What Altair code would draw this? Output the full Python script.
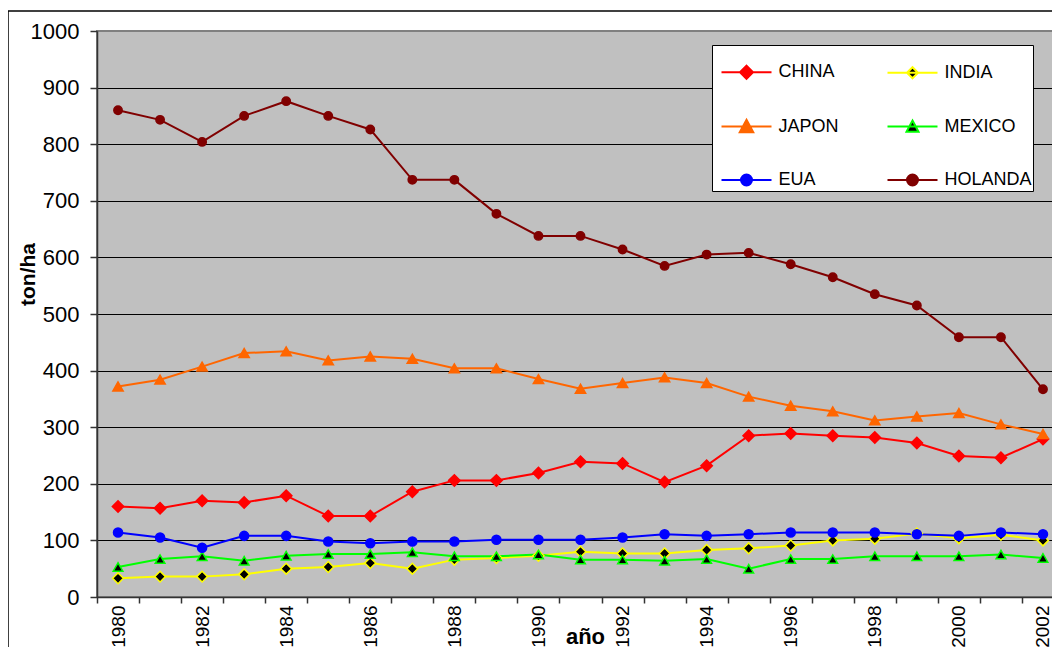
import altair as alt
import pandas as pd

years = list(range(1980, 2003))
countries = ["CHINA", "INDIA", "JAPON", "MEXICO", "EUA", "HOLANDA"]

china = [160, 157, 170, 167, 179, 143, 143, 186, 206, 206, 219, 239,
         236, 203, 232, 285, 289, 285, 282, 272, 249, 246, 279]
india = [33, 36, 36, 40, 50, 53, 60, 50, 66, 69, 73, 80,
         77, 77, 83, 86, 91, 100, 103, 112, 104, 110, 100]
japon = [372, 384, 407, 431, 434, 418, 425, 421, 404, 404, 385, 368,
         378, 388, 378, 354, 338, 328, 312, 319, 325, 305, 288]
mexico = [53, 67, 72, 64, 73, 76, 76, 79, 72, 72, 75, 66,
          66, 64, 67, 50, 67, 67, 72, 72, 72, 75, 69]
eua = [114, 105, 87, 108, 108, 98, 95, 98, 98, 101, 101, 101,
       105, 111, 108, 111, 114, 114, 114, 111, 108, 114, 111]
holanda = [860, 843, 804, 850, 876, 850, 826, 737, 737, 677, 638, 638,
           614, 585, 605, 608, 588, 565, 535, 515, 459, 459, 367]

series = {"CHINA": china, "INDIA": india, "JAPON": japon,
          "MEXICO": mexico, "EUA": eua, "HOLANDA": holanda}

line_colors = ["#FF0000", "#FFFF00", "#FF6600", "#00FF00", "#0000FF", "#800000"]
fill_colors = ["#FF0000", "#000000", "#FF6600", "#000000", "#0000FF", "#800000"]
point_shapes = ["diamond", "diamond", "triangle-up", "triangle-up", "circle", "circle"]
point_sizes = [130, 70, 150, 110, 120, 120]
legend_paths = [
    "M-1,0H1M-0.26,0L0,-0.26L0.26,0L0,0.26Z",
    "M-1,0H1M-0.22,0L0,-0.22L0.22,0L0,0.22Z",
    "M-1,0H1M0,-0.27L0.27,0.23L-0.27,0.23Z",
    "M-1,0H1M0,-0.24L0.24,0.21L-0.24,0.21Z",
    "M-1,0H1M-0.22,0A0.22,0.22,0,1,1,0.22,0A0.22,0.22,0,1,1,-0.22,0Z",
    "M-1,0H1M-0.22,0A0.22,0.22,0,1,1,0.22,0A0.22,0.22,0,1,1,-0.22,0Z",
]
# legend fills column by column: first column CHINA, JAPON, EUA
legend_order = ["CHINA", "JAPON", "EUA", "INDIA", "MEXICO", "HOLANDA"]
idx = [countries.index(c) for c in legend_order]

rows = []
for c in countries:
    for yr, v in zip(years, series[c]):
        rows.append({"anio": yr, "valor": v, "pais": c, "leyenda": c})
df = pd.DataFrame(rows)

FONT = "Liberation Sans"

x_axis = alt.Axis(
    values=[y - 0.5 for y in range(1980, 2004)],
    labelExpr="(datum.value + 0.5) % 2 == 0 ? format(datum.value + 0.5, 'd') : ''",
    labelOffset=21.0, labelAngle=270, labelAlign="right", labelBaseline="middle",
    labelOverlap=False, labelFlush=False, labelFontSize=19, labelPadding=2,
    labelColor="black", tickSize=6, tickColor="#333333", tickWidth=1.5,
    domainColor="#333333", domainWidth=1.5, grid=False,
    title="año", titleFontSize=22, titleFontWeight="bold", titleX=488, titleY=39,
    titleAlign="center", titleBaseline="middle", titleColor="black",
)
y_axis = alt.Axis(
    values=list(range(0, 1001, 100)), format="d", tickSize=7, tickColor="#333333", tickWidth=1.5,
    labelPadding=11, labelFontSize=22, labelColor="black",
    domainColor="#333333", domainWidth=1.5,
    grid=True, gridWidth=1,
    gridColor=alt.condition("datum.value == 1000", alt.value("#808080"), alt.value("#000000")),
    title="ton/ha", titleFontSize=21, titleFontWeight="bold", titleAngle=270,
    titleX=-69, titleY=243, titleAlign="center", titleBaseline="middle", titleColor="black",
)

x_enc = alt.X("anio:Q", scale=alt.Scale(domain=[1979.5, 2002.5], nice=False, zero=False), axis=x_axis)
y_enc = alt.Y("valor:Q", scale=alt.Scale(domain=[0, 1000], nice=False), axis=y_axis)

base = alt.Chart(df)

lines = base.mark_line(strokeWidth=2).encode(
    x=x_enc, y=y_enc,
    stroke=alt.Stroke("pais:N", scale=alt.Scale(domain=countries, range=line_colors), legend=None),
    detail="pais:N",
)

points = base.mark_point(filled=True, strokeWidth=1.5, opacity=1).encode(
    x=x_enc, y=y_enc,
    shape=alt.Shape("pais:N", scale=alt.Scale(domain=countries, range=point_shapes), legend=None),
    fill=alt.Fill("pais:N", scale=alt.Scale(domain=countries, range=fill_colors), legend=None),
    stroke=alt.Stroke("pais:N", scale=alt.Scale(domain=countries, range=line_colors), legend=None),
    size=alt.Size("pais:N", scale=alt.Scale(domain=countries, range=point_sizes), legend=None),
)

leg = alt.Legend(
    orient="none", legendX=615, legendY=14, columns=2, title=None,
    symbolSize=2500, symbolStrokeWidth=2, symbolOffset=7.5, symbolOpacity=1,
    labelOffset=6, labelFontSize=18, labelFont=FONT, labelColor="black",
    rowPadding=17.5, columnPadding=40, padding=1,
    fillColor="white", strokeColor="black",
)

legend_layer = base.mark_point(filled=True, opacity=0, strokeWidth=2).encode(
    x=x_enc, y=y_enc,
    shape=alt.Shape("leyenda:N", scale=alt.Scale(domain=legend_order, range=[legend_paths[i] for i in idx]), legend=leg),
    fill=alt.Fill("leyenda:N", scale=alt.Scale(domain=legend_order, range=[fill_colors[i] for i in idx]), legend=leg),
    stroke=alt.Stroke("leyenda:N", scale=alt.Scale(domain=legend_order, range=[line_colors[i] for i in idx]), legend=leg),
)

frame_df = pd.DataFrame({"k": [0]})
frame_left = alt.Chart(frame_df).mark_rule(color="black", strokeWidth=1.5).encode(
    x=alt.value(-89), y=alt.value(-20), y2=alt.value(640))
frame_top = alt.Chart(frame_df).mark_rule(color="black", strokeWidth=1.5).encode(
    x=alt.value(-89), x2=alt.value(990), y=alt.value(-20))

chart = alt.layer(frame_left, frame_top, lines, points, legend_layer).resolve_scale(
    shape="independent", fill="independent", stroke="independent"
).properties(
    width=967, height=566,
    autosize=alt.AutoSizeParams(type="none"),
    padding={"left": 89, "top": 23, "right": -12, "bottom": 50},
).configure(font=FONT).configure_view(
    fill="#C0C0C0", stroke="#808080", strokeWidth=2
)

chart.save("out.html", embed_options={"renderer": "svg", "actions": False})
